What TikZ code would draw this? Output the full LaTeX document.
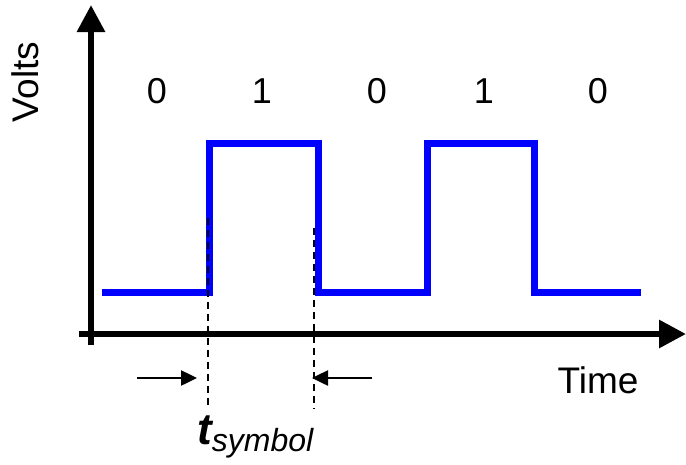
\documentclass[tikz,border=0pt]{standalone}
\usepackage{fontspec}
\setmainfont{Liberation Sans}
\usetikzlibrary{arrows.meta}
\definecolor{signal}{RGB}{0,0,255}
\begin{document}
\begin{tikzpicture}[x=1pt,y=-1pt,
  axis/.style={line width=6pt,-{Triangle[length=27pt,width=27pt]}},
  wave/.style={line width=7pt,color=signal,line join=miter},
  guide/.style={line width=1.8pt,dash pattern=on 7pt off 5pt},
  marker/.style={line width=2.5pt,-{Triangle[length=16pt,width=15pt]}},
  bit/.style={font=\fontsize{36}{40}\selectfont,inner sep=0pt},
  axlabel/.style={font=\fontsize{37}{42}\selectfont,inner sep=0pt}]
\useasboundingbox (0,0) rectangle (686,464);

% axes
\coordinate (ybot) at (91,345);
\coordinate (ytop) at (91,5);
\coordinate (xleft) at (79,334);
\coordinate (xright) at (686,334);
\draw[axis] (ybot) -- (ytop);
\draw[axis] (xleft) -- (xright);

% square wave 0 1 0 1 0
\draw[wave] (102,292.5) -- (209,292.5) -- (209,143.5) -- (318,143.5) -- (318,292.5)
  -- (427,292.5) -- (427,143.5) -- (534,143.5) -- (534,292.5) -- (641,292.5);

% symbol period guides
\coordinate (g1top) at (208,218);
\coordinate (g1bot) at (208,409);
\coordinate (g2top) at (314,228);
\coordinate (g2bot) at (314,409);
\draw[guide] (g1top) -- (g1bot);
\draw[guide] (g2top) -- (g2bot);

% period markers
\coordinate (m1a) at (137,378);
\coordinate (m1b) at (197,378);
\coordinate (m2a) at (372,378);
\coordinate (m2b) at (312,378);
\draw[marker] (m1a) -- (m1b);
\draw[marker] (m2a) -- (m2b);

% bit values
\node[bit] (b1) at (157,91) {0};
\node[bit] (b2) at (262,91) {1};
\node[bit] (b3) at (377,91) {0};
\node[bit] (b4) at (484,91) {1};
\node[bit] (b5) at (598,91) {0};

% axis labels
\node[axlabel,rotate=90] (volts) at (25,82) {Volts};
\node[axlabel] (time) at (598,380) {Time};

% symbol duration label
\node[inner sep=0pt,anchor=base west] (tsym) at (197,444)
  {{\fontsize{44}{48}\selectfont\bfseries\itshape t}\raisebox{-7pt}{\fontsize{32}{36}\selectfont\itshape symbol}};
\end{tikzpicture}
\end{document}
